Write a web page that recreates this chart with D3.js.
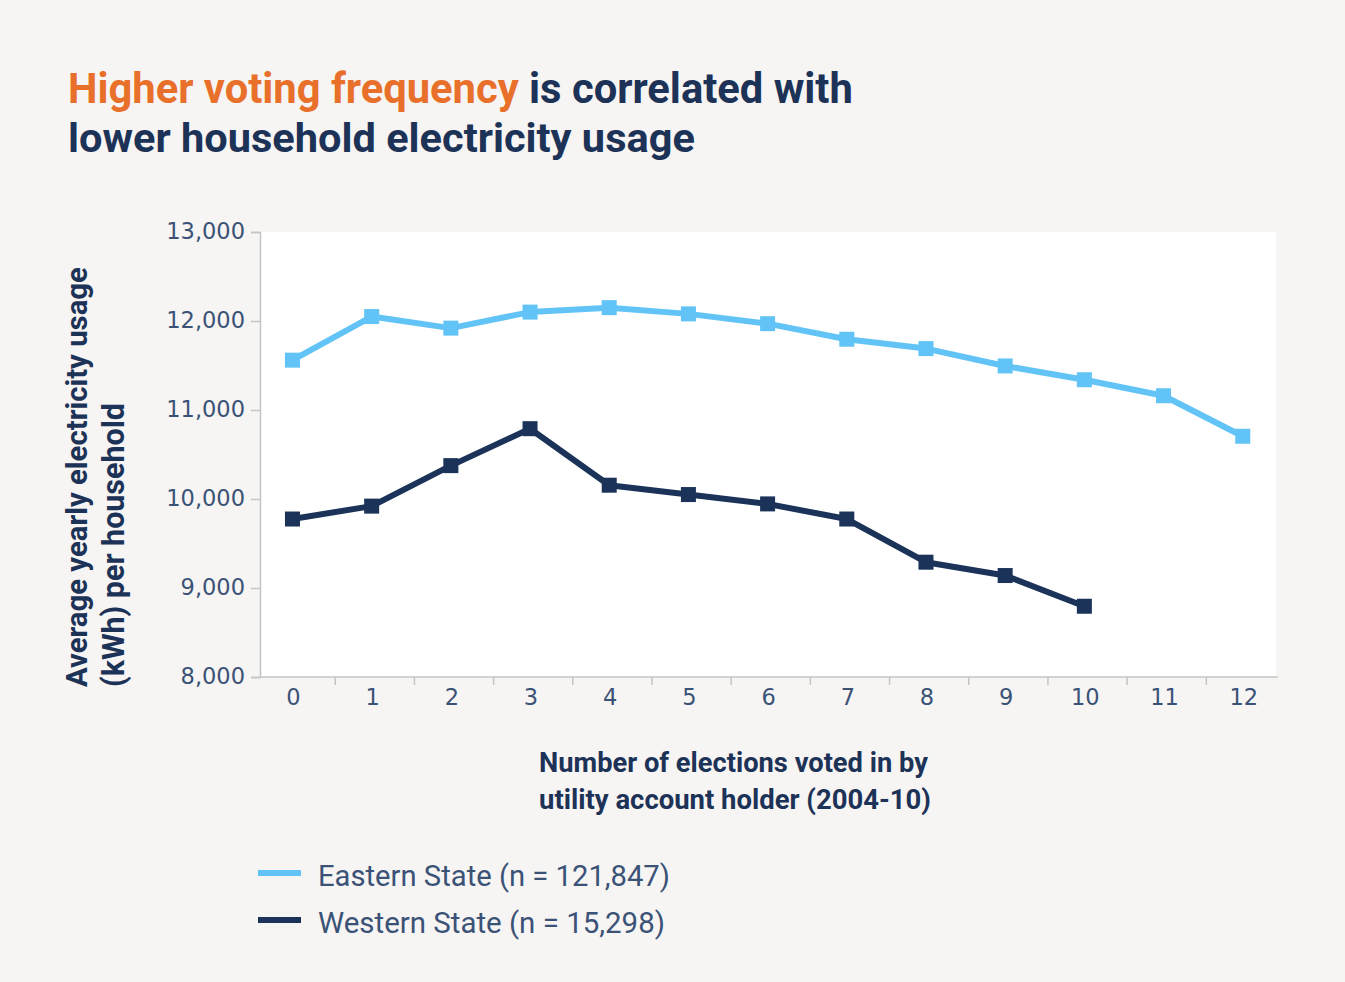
<!DOCTYPE html>
<html>
<head>
<meta charset="utf-8">
<script src="https://cdn.jsdelivr.net/npm/d3@7"></script>
<style>
  html, body { margin: 0; padding: 0; background: #f6f5f3; }
  svg { display: block; }
</style>
</head>
<body>
<svg id="chart" width="1345" height="982"></svg>
<script>
// Elections voted in (2004-10)
const elections = [0, 1, 2, 3, 4, 5, 6, 7, 8, 9, 10, 11, 12];
// Average yearly electricity usage (kWh) per household
const eastern = [11560, 12050, 11920, 12100, 12150, 12080, 11970, 11795, 11690, 11495, 11340, 11160, 10705];
const western = [9775, 9920, 10375, 10790, 10155, 10050, 9945, 9775, 9290, 9140, 8795];
const yTicks = [8000, 9000, 10000, 11000, 12000, 13000];
const seriesNames = ["Eastern State (n = 121,847)", "Western State (n = 15,298)"];
const seriesColors = ["#62c4f6", "#1b3358"];

const svg = d3.select("#chart");
const navy = "#1d3257";
const tickColor = "#3b5277";
const axisColor = "#c4c4c4";

// Scale a text element's font size so that it spans the given width
function fitWidth(sel, target) {
  const node = sel.node();
  const fs = parseFloat(sel.attr("font-size"));
  const w = node.getComputedTextLength();
  sel.attr("font-size", (fs * target / w).toFixed(2));
}

// Title
const titleFont = "Roboto, 'Open Sans', sans-serif";
const t1 = svg.append("text").attr("x", 68).attr("y", 103)
  .attr("font-family", titleFont).attr("font-weight", 700).attr("font-size", 40).attr("fill", navy);
t1.append("tspan").attr("fill", "#e8702a").text("Higher voting frequency");
t1.append("tspan").text(" is correlated with");
fitWidth(t1, 785);
const t2 = svg.append("text").attr("x", 68).attr("y", 152)
  .attr("font-family", titleFont).attr("font-weight", 700).attr("font-size", 40).attr("fill", navy)
  .text("lower household electricity usage");
fitWidth(t2, 627);

// Plot area
const plot = { left: 260, right: 1276, top: 232, bottom: 677 };
svg.append("rect")
  .attr("x", plot.left).attr("y", plot.top)
  .attr("width", plot.right - plot.left).attr("height", plot.bottom - plot.top)
  .attr("fill", "#ffffff");

const x = d3.scaleLinear().domain([-0.41, 12.42]).range([plot.left, plot.right]);
const y = d3.scaleLinear().domain([8000, 13000]).range([plot.bottom, plot.top]);

// Y axis
const yAxis = svg.append("g").attr("transform", `translate(${plot.left},0)`)
  .call(d3.axisLeft(y).tickValues(yTicks).tickSize(9).tickPadding(6).tickFormat(d3.format(",")));
yAxis.select(".domain").attr("stroke", axisColor).attr("stroke-width", 1.5);
yAxis.selectAll(".tick line").attr("stroke", axisColor).attr("stroke-width", 1.5);
yAxis.selectAll(".tick text")
  .attr("font-family", "'DejaVu Sans', sans-serif").attr("font-size", 22.5)
  .attr("fill", tickColor).attr("dy", "0.3em");

// X axis: labels at category positions, tick marks between categories
const xAxisG = svg.append("g").attr("transform", `translate(0,${plot.bottom})`);
xAxisG.append("line").attr("x1", plot.left).attr("x2", plot.right + 2)
  .attr("stroke", axisColor).attr("stroke-width", 1.5);
xAxisG.selectAll("line.sep").data(elections.slice(0, -1)).join("line")
  .attr("class", "sep")
  .attr("x1", d => x(d + 0.54)).attr("x2", d => x(d + 0.54))
  .attr("y1", 0).attr("y2", 8)
  .attr("stroke", axisColor).attr("stroke-width", 1.5);
xAxisG.selectAll("text").data(elections).join("text")
  .attr("x", d => x(d) + 1).attr("y", 28)
  .attr("text-anchor", "middle")
  .attr("font-family", "'DejaVu Sans', sans-serif").attr("font-size", 22.5)
  .attr("fill", tickColor).text(d => d);

// Axis titles
const labelFont = "Roboto, 'Open Sans', sans-serif";
const yl1 = svg.append("text").attr("transform", "translate(87,687) rotate(-90)")
  .attr("font-family", labelFont).attr("font-weight", 700).attr("font-size", 26).attr("fill", navy)
  .text("Average yearly electricity usage");
fitWidth(yl1, 420);
const yl2 = svg.append("text").attr("transform", "translate(124,687) rotate(-90)")
  .attr("font-family", labelFont).attr("font-weight", 700).attr("font-size", 26).attr("fill", navy)
  .text("(kWh) per household");
fitWidth(yl2, 284);

const xl1 = svg.append("text").attr("x", 539).attr("y", 772)
  .attr("font-family", labelFont).attr("font-weight", 700).attr("font-size", 24).attr("fill", navy)
  .text("Number of elections voted in by");
fitWidth(xl1, 389);
const xl2 = svg.append("text").attr("x", 539).attr("y", 809)
  .attr("font-family", labelFont).attr("font-weight", 700).attr("font-size", 24).attr("fill", navy)
  .text("utility account holder (2004-10)");
fitWidth(xl2, 392);

// Series lines and square markers
const line = d3.line().x((d, i) => x(elections[i])).y(d => y(d));
[eastern, western].forEach((vals, si) => {
  const g = svg.append("g");
  g.append("path").datum(vals)
    .attr("d", line).attr("fill", "none")
    .attr("stroke", seriesColors[si]).attr("stroke-width", 6)
    .attr("stroke-linejoin", "round");
  const s = 15;
  g.selectAll("rect").data(vals).join("rect")
    .attr("x", (d, i) => x(elections[i]) - s / 2)
    .attr("y", d => y(d) - s / 2)
    .attr("width", s).attr("height", s)
    .attr("fill", seriesColors[si]);
});

// Legend
const legendY = [873, 920];
const legendW = [352, 347];
seriesNames.forEach((name, i) => {
  svg.append("rect").attr("x", 258).attr("y", legendY[i] - 3)
    .attr("width", 43).attr("height", 6).attr("fill", seriesColors[i]);
  const lt = svg.append("text").attr("x", 318).attr("y", legendY[i] + 12.5)
    .attr("font-family", "Roboto, 'Open Sans', sans-serif").attr("font-size", 28)
    .attr("fill", tickColor).text(name);
  fitWidth(lt, legendW[i]);
});
</script>
</body>
</html>
